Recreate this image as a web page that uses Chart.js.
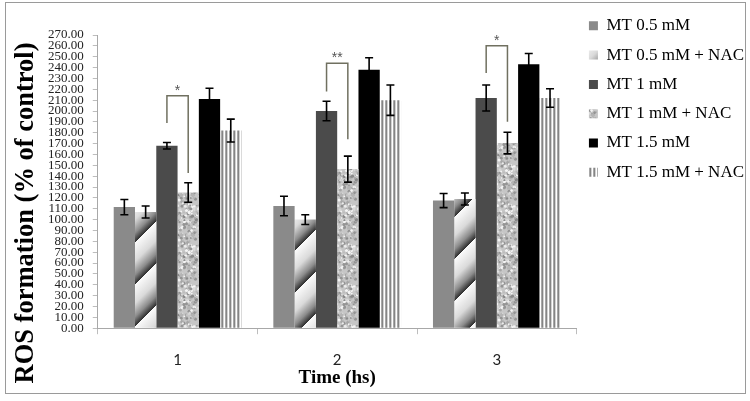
<!DOCTYPE html>
<html>
<head>
<meta charset="utf-8">
<script src="https://cdn.jsdelivr.net/npm/chart.js@4.4.1/dist/chart.umd.min.js"></script>
<style>
  html, body { margin:0; padding:0; background:#fff; }
  #wrap { width:750px; height:401px; }
</style>
</head>
<body>
<div id="wrap"><canvas id="c" width="750" height="401"></canvas></div>
<script>
// categories (time, hs)
const times = ['1', '2', '3'];
const seriesNames = ['MT 0.5 mM', 'MT 0.5 mM + NAC', 'MT 1 mM', 'MT 1 mM + NAC', 'MT 1.5 mM', 'MT 1.5 mM + NAC'];

// ROS formation (% of control)
const mt05    = [111.5, 112.5, 117.5];
const mt05Nac = [107, 100, 119];
const mt1     = [168, 200, 212];
const mt1Nac  = [125, 146.5, 170.5];
const mt15    = [211, 238, 243];
const mt15Nac = [182, 210, 212];

// error bars (+/-)
const errMt05    = [7, 9, 6.5];
const errMt05Nac = [5.5, 4.5, 5.5];
const errMt1     = [3, 9, 12];
const errMt1Nac  = [9, 12, 10];
const errMt15    = [10, 11, 10];
const errMt15Nac = [10.5, 14, 8.5];

// significance brackets MT 1 mM vs MT 1 mM + NAC
const sigStars    = ['*', '**', '*'];
const sigTop      = [214, 244, 260];
const sigLeftEnd  = [189, 218, 235];
const sigRightEnd = [143, 174, 190];

const yTitle = 'ROS formation (% of control)';
const xTitle = 'Time (hs)';

// ---- fill patterns ----
function diagPattern(ctx){
  const T = 42;
  const c = document.createElement('canvas'); c.width = T; c.height = T;
  const g = c.getContext('2d');
  const grd = g.createLinearGradient(0, 0, T, T);
  [0, 0.5].forEach(o=>{
    grd.addColorStop(o + 0.0,  '#fafafa');
    grd.addColorStop(o + 0.22, '#dadada');
    grd.addColorStop(o + 0.38, '#8c8c8c');
    grd.addColorStop(o + 0.495,'#2c2c2c');
  });
  g.fillStyle = grd; g.fillRect(0, 0, T, T);
  return ctx.createPattern(c, 'repeat');
}

function granitePattern(ctx){
  const T = 40;
  const c = document.createElement('canvas'); c.width = T; c.height = T;
  const g = c.getContext('2d');
  g.fillStyle = '#c6c6c6'; g.fillRect(0, 0, T, T);
  let s = 24680;
  const rnd = ()=>{ s = (s * 1664525 + 1013904223) >>> 0; return s / 4294967296; };
  const shades = ['#949494', '#a6a6a6', '#ececec', '#b4b4b4', '#f4f4f4', '#d8d8d8', '#888888'];
  for (let i = 0; i < 260; i++){
    const x = rnd() * T, y = rnd() * T, r = 0.6 + rnd() * 1.2;
    g.fillStyle = shades[Math.floor(rnd() * shades.length)];
    for (const dx of [-T, 0, T]) for (const dy of [-T, 0, T]){
      g.beginPath(); g.arc(x + dx, y + dy, r, 0, Math.PI * 2); g.fill();
    }
  }
  return ctx.createPattern(c, 'repeat');
}

function stripePattern(ctx){
  const cols = ['#ffffff', '#a8a8a8', '#858585', '#d2d2d2'];
  const c = document.createElement('canvas'); c.width = cols.length; c.height = 4;
  const g = c.getContext('2d');
  cols.forEach((col, i)=>{ g.fillStyle = col; g.fillRect(i, 0, 1, 4); });
  return ctx.createPattern(c, 'repeat');
}

const canvas = document.getElementById('c');
const ctx = canvas.getContext('2d');

const values = [mt05, mt05Nac, mt1, mt1Nac, mt15, mt15Nac];
const errors = [errMt05, errMt05Nac, errMt1, errMt1Nac, errMt15, errMt15Nac];
const fills  = ['#8a8a8a', diagPattern(ctx), '#4b4b4b', granitePattern(ctx), '#000000', stripePattern(ctx)];

const errorBars = {
  id: 'errorBars',
  afterDatasetsDraw(chart){
    const c = chart.ctx, y = chart.scales.y;
    c.save();
    c.strokeStyle = '#000'; c.lineWidth = 1.6;
    chart.data.datasets.forEach((ds, i)=>{
      chart.getDatasetMeta(i).data.forEach((bar, j)=>{
        const v = ds.data[j], e = errors[i][j];
        const t = y.getPixelForValue(v + e), b = y.getPixelForValue(v - e);
        c.beginPath();
        c.moveTo(bar.x, t); c.lineTo(bar.x, b);
        c.moveTo(bar.x - 4, t); c.lineTo(bar.x + 4, t);
        c.moveTo(bar.x - 4, b); c.lineTo(bar.x + 4, b);
        c.stroke();
      });
    });
    c.restore();
  }
};

const brackets = {
  id: 'brackets',
  afterDatasetsDraw(chart){
    const c = chart.ctx, y = chart.scales.y;
    const left = chart.getDatasetMeta(2).data, right = chart.getDatasetMeta(3).data;
    c.save();
    c.strokeStyle = '#707060'; c.lineWidth = 1.5;
    times.forEach((t, j)=>{
      const xl = left[j].x, xr = right[j].x, yt = y.getPixelForValue(sigTop[j]);
      c.beginPath();
      c.moveTo(xl, y.getPixelForValue(sigLeftEnd[j]));
      c.lineTo(xl, yt); c.lineTo(xr, yt);
      c.lineTo(xr, y.getPixelForValue(sigRightEnd[j]));
      c.stroke();
      c.fillStyle = '#555';
      c.font = '14px "Liberation Sans"';
      c.textAlign = 'center'; c.textBaseline = 'alphabetic';
      c.fillText(sigStars[j], (xl + xr) / 2, yt - 1);
    });
    c.restore();
  }
};

// outer frame + y title (centred on the whole frame like the original)
const frame = {
  id: 'frame',
  beforeDraw(chart){
    const c = chart.ctx;
    c.save();
    c.fillStyle = '#fff'; c.fillRect(0, 0, chart.width, chart.height);
    c.strokeStyle = '#9a9a9a'; c.lineWidth = 1;
    c.strokeRect(5.5, 2.5, 740, 391);
    c.restore();
  },
  afterDraw(chart){
    const c = chart.ctx;
    c.save();
    c.translate(26, 213);
    c.rotate(-Math.PI / 2);
    c.fillStyle = '#000';
    c.font = 'bold 26.5px "Liberation Serif", serif';
    c.textAlign = 'center'; c.textBaseline = 'middle';
    c.fillText(yTitle, 0, 0);
    c.restore();
  }
};

new Chart(ctx, {
  type: 'bar',
  data: {
    labels: times,
    datasets: seriesNames.map((name, i)=>({
      label: name,
      data: values[i],
      backgroundColor: fills[i],
      borderWidth: 0,
      categoryPercentage: 0.8,
      barPercentage: 1.0
    }))
  },
  options: {
    responsive: false,
    animation: false,
    layout: { padding: { left: 39, top: 5, right: -4, bottom: 12 } },
    plugins: {
      tooltip: { enabled: false },
      title: { display: true, text: '', fullSize: false, padding: 0, font: { size: 30, lineHeight: 1 } },
      legend: {
        position: 'right', align: 'start',
        labels: {
          boxWidth: 9, boxHeight: 9, padding: 12.3, color: '#000',
          font: { family: '"Liberation Serif", "Times New Roman", serif', size: 17 }
        }
      }
    },
    scales: {
      x: {
        grid: { drawOnChartArea: false, color: '#bdbdbd', tickLength: 6 },
        border: { color: '#a8a8a8' },
        ticks: { padding: 17, color: '#222', font: { family: 'Lato, "Open Sans", sans-serif', size: 15 } },
        title: {
          display: true, text: xTitle, color: '#000', padding: { top: -20, bottom: 0 },
          font: { family: '"Liberation Serif", serif', size: 19, weight: 'bold' }
        }
      },
      y: {
        min: 0, max: 270,
        grid: { drawOnChartArea: false, color: '#bdbdbd', tickLength: 5 },
        border: { color: '#a8a8a8' },
        ticks: {
          stepSize: 10, autoSkip: false, padding: 9, color: '#222',
          font: { family: '"Liberation Serif", serif', size: 13, lineHeight: 1 },
          callback: v => Number(v).toFixed(2)
        }
      }
    }
  },
  plugins: [frame, errorBars, brackets]
});
</script>
</body>
</html>
